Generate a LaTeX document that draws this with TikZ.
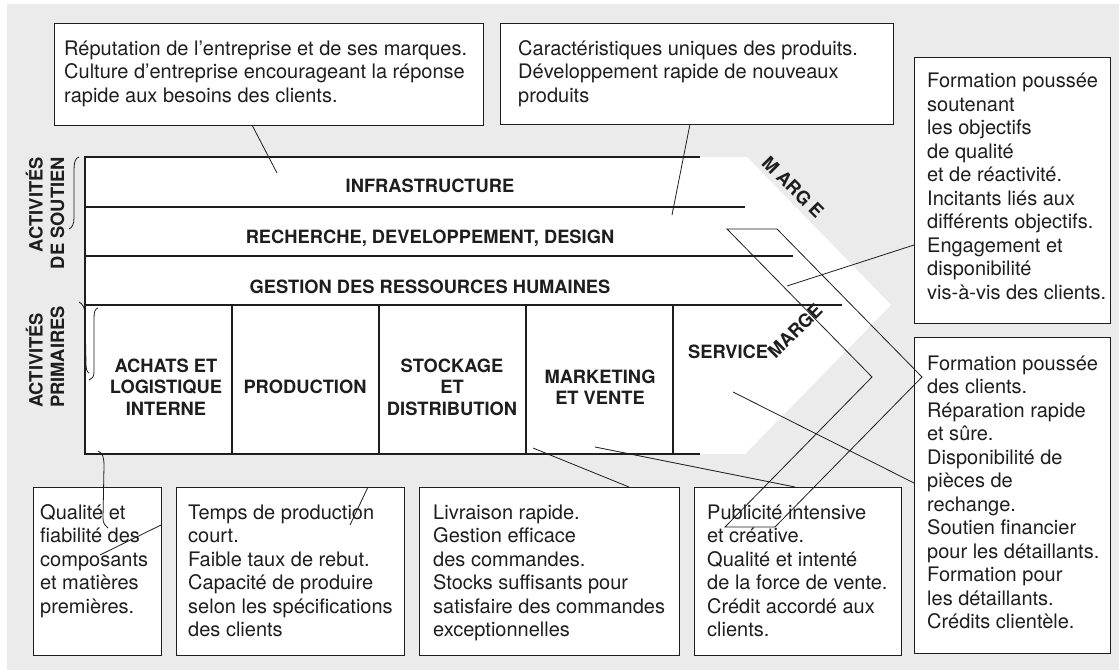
\documentclass[tikz,border=0pt]{standalone}
\usepackage{fontspec}
\setmainfont{TeX Gyre Heros}
\definecolor{bg}{HTML}{EBEBEB}
\definecolor{ink}{HTML}{1E1E1E}
\newcommand\fstrut{\rule{0pt}{20pt}}
\tikzset{
  frame/.style={draw=ink, line width=1.1pt},
  conn/.style={draw=ink, line width=0.8pt},
  tbox/.style={draw=ink, line width=0.9pt, fill=white, anchor=north west, inner sep=0pt},
  txt/.style={anchor=north west, inner sep=0pt, align=left, text=ink, font=\fontsize{20}{23.5}\selectfont},
  cell/.style={inner sep=0pt, align=center, text=ink, font=\bfseries\fontsize{18.3}{21.5}\selectfont},
}
\begin{document}
\begin{tikzpicture}[x=1pt,y=-1pt]
\useasboundingbox (0,0) rectangle (1119,670);
\fill[white] (0,0) rectangle (1119,670);
\fill[bg] (7,4) rectangle (1119,670);
\fill[white] (85,157) -- (747,157) -- (891,305) -- (745,454) -- (85,454) -- cycle;

% frame of the value chain
\draw[frame] (700,157) -- (85,157) -- (85,454) -- (700,454);
\draw[frame] (85,207) -- (745,207);
\draw[frame] (85,256) -- (793,256);
\draw[frame] (85,305) -- (842,305);
\foreach \x in {232,379,526,673} \draw[frame] (\x,305) -- (\x,454);

% cell labels
\node[cell, anchor=base] (infra) at (430,192) {INFRASTRUCTURE};
\node[cell, anchor=base] (rd) at (430,243) {RECHERCHE, DEVELOPPEMENT, DESIGN};
\node[cell, anchor=base] (grh) at (430,293) {GESTION DES RESSOURCES HUMAINES};
\node[cell] (achats) at (166,387) {ACHATS ET\\LOGISTIQUE\\INTERNE};
\node[cell] (prod) at (305,387) {PRODUCTION};
\node[cell] (stock) at (452,387) {STOCKAGE\\ET\\DISTRIBUTION};
\node[cell] (mkt) at (600,387) {MARKETING\\ET VENTE};
\node[cell, anchor=base west] (serv) at (688,358) {SERVICE};
\node[cell, rotate=-45] (marge1) at (793,187) {M ARG E};
\node[cell, rotate=45] (marge2) at (795,331) {MARGE};

% side labels and braces
\node[cell, rotate=90, anchor=east, align=right] (lsout) at (45,157) {ACTIVITÉS\\DE SOUTIEN};
\node[cell, rotate=90, anchor=west, align=left] (lprim) at (45,408) {ACTIVITÉS\\PRIMAIRES};
\draw[conn] (79,157) .. controls (75,158) and (74,163) .. (74,170) -- (74,218) .. controls (74,224) and (72,228) .. (69,229);
\draw[conn] (79,302) .. controls (83,304) and (85,308) .. (85,315) -- (86,364) .. controls (86,369) and (87,372) .. (89,373);
\draw[conn] (98,308) .. controls (95,309) and (94,312) .. (94,318) -- (94,372) .. controls (94,377) and (92,379) .. (89,380);

% text boxes
\node[tbox, minimum width=429pt, minimum height=102pt] (b1) at (54,23) {};
\node[tbox, minimum width=393pt, minimum height=101pt] (b2) at (500,23) {};
\node[tbox, minimum width=196pt, minimum height=266pt] (b3) at (914,57) {};
\node[tbox, minimum width=196pt, minimum height=316pt] (b4) at (914,337) {};
\node[tbox, minimum width=128pt, minimum height=168pt] (b5) at (33,487) {};
\node[tbox, minimum width=228pt, minimum height=168pt] (b6) at (176,487) {};
\node[tbox, minimum width=260pt, minimum height=168pt] (b7) at (419,487) {};
\node[tbox, minimum width=207pt, minimum height=168pt] (b8) at (694,487) {};

\node[txt] (t1) at (64,35) {\fstrut Réputation de l’entreprise et de ses marques.\\Culture d’entreprise encourageant la réponse\\rapide aux besoins des clients.};
\node[txt] (t2) at (518,35) {\fstrut Caractéristiques uniques des produits.\\Développement rapide de nouveaux\\produits};
\node[txt] (t3) at (927,67.5) {\fstrut Formation poussée\\soutenant\\les objectifs\\de qualité\\et de réactivité.\\Incitants liés aux\\différents objectifs.\\Engagement et\\disponibilité\\vis-à-vis des clients.};
\node[txt] (t4) at (927,350) {\fstrut Formation poussée\\des clients.\\Réparation rapide\\et sûre.\\Disponibilité de\\pièces de\\rechange.\\Soutien financier\\pour les détaillants.\\Formation pour\\les détaillants.\\Crédits clientèle.};
\node[txt] (t5) at (40,499) {\fstrut Qualité et\\fiabilité des\\composants\\et matières\\premières.};
\node[txt] (t6) at (188,499) {\fstrut Temps de production\\court.\\Faible taux de rebut.\\Capacité de produire\\selon les spécifications\\des clients};
\node[txt] (t7) at (433,499) {\fstrut Livraison rapide.\\Gestion efficace\\des commandes.\\Stocks suffisants pour\\satisfaire des commandes\\exceptionnelles};
\node[txt] (t8) at (707,499) {\fstrut Publicité intensive\\et créative.\\Qualité et intenté\\de la force de vente.\\Crédit accordé aux\\clients.};

% connector end points
\coordinate (p1a) at (252,125); \coordinate (p1b) at (277,173);
\coordinate (p2a) at (690,124); \coordinate (p2b) at (672,215);
\coordinate (p3a) at (914,245); \coordinate (p3b) at (787,286);
\coordinate (p4a) at (914,483); \coordinate (p4b) at (733,392);
\coordinate (p6a) at (533,448); \coordinate (p6b) at (629,487);
\coordinate (p7a) at (595,447); \coordinate (p7b) at (795,487);
\coordinate (p9a) at (161,525); \coordinate (p9b) at (100,555);
\coordinate (p10a) at (368,487); \coordinate (p10b) at (350,525);
\coordinate (q1) at (98,451); \coordinate (q2) at (108,528);
\coordinate (c1) at (727,229); \coordinate (c2) at (777,229);
\coordinate (c3) at (922,377); \coordinate (c4) at (775,527);
\coordinate (c5) at (725,527); \coordinate (c6) at (872,377);

% connectors
\draw[conn] (p1a) -- (p1b);
\draw[conn] (p2a) -- (p2b);
\draw[conn] (p3a) -- (p3b);
\draw[conn] (p4a) -- (p4b);
\draw[conn] (p6a) -- (p6b);
\draw[conn] (p7a) -- (p7b);
\draw[conn] (p9a) -- (p9b);
\draw[conn] (p10a) -- (p10b);
\draw[conn] (q1) .. controls (103,453) and (104,458) .. (104,466) -- (103,518) .. controls (103,523) and (105,526) .. (q2);
\draw[conn] (c1) -- (c2) -- (c3) -- (c4) -- (c5) -- (c6) -- cycle;
\end{tikzpicture}
\end{document}
